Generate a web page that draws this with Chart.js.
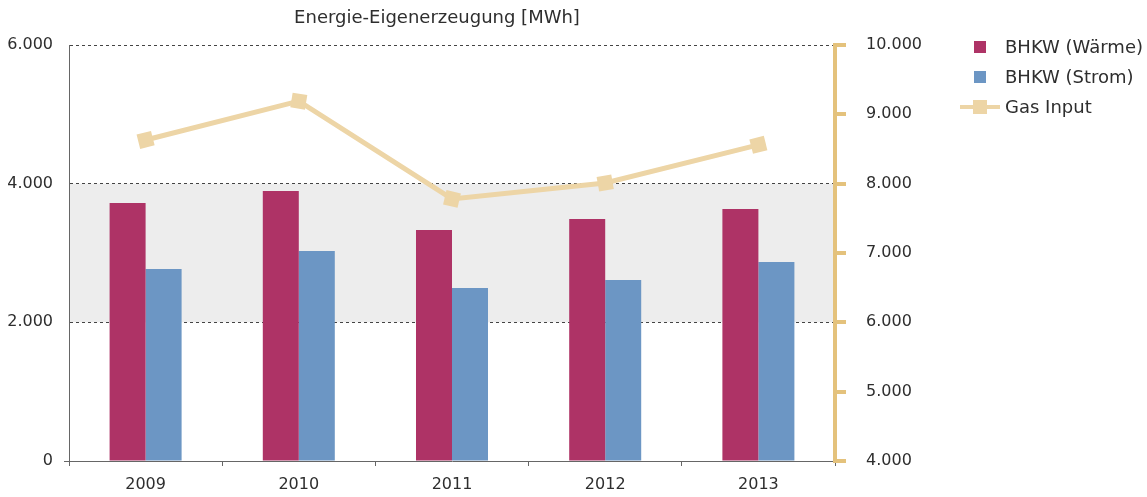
<!DOCTYPE html>
<html>
<head>
<meta charset="utf-8">
<script src="https://cdn.jsdelivr.net/npm/chart.js@4"></script>
<style>
    html, body { margin: 0; padding: 0; background: #fff; }
    #wrap { width: 1147px; height: 497px; }
</style>
</head>
<body>
<div id="wrap"><canvas id="barChart" width="1147" height="497"></canvas></div>
<script>
// chart data
const years = ['2009', '2010', '2011', '2012', '2013'];
const waerme = [3720, 3895, 3330, 3490, 3635];
const strom = [2770, 3030, 2495, 2610, 2870];
const gasInput = [8630, 9190, 7780, 8010, 8560];
const leftTicks = [0, 2000, 4000, 6000];
const rightTicks = [4000, 5000, 6000, 7000, 8000, 9000, 10000];
const bandRange = [2000, 4000];
const titleText = 'Energie-Eigenerzeugung [MWh]';

const FONT = 'DejaVu Sans';
const TEXT = '#2e2e2e';
const GOLD = '#e4c27c';
const GAS = '#edd5a6';

function fmt(v) {
    return String(v).replace(/\B(?=(\d{3})+(?!\d))/g, '.');
}

// grey band + title
const bandPlugin = {
    id: 'band',
    beforeDraw: function (chart) {
        const ctx = chart.ctx, a = chart.chartArea, y = chart.scales.y;
        const y1 = y.getPixelForValue(bandRange[1]);
        const y2 = y.getPixelForValue(bandRange[0]);
        ctx.save();
        ctx.fillStyle = '#ededed';
        ctx.fillRect(a.left, y1, a.right - a.left, y2 - y1);
        ctx.fillStyle = TEXT;
        ctx.font = '18px "' + FONT + '"';
        ctx.textAlign = 'center';
        ctx.textBaseline = 'middle';
        ctx.fillText(titleText, a.left + 368, 18);
        ctx.restore();
    }
};

// legend on the right
const legendPlugin = {
    id: 'sideLegend',
    afterDraw: function (chart) {
        const ctx = chart.ctx, a = chart.chartArea;
        ctx.save();
        ctx.font = '18px "' + FONT + '"';
        ctx.textBaseline = 'middle';
        ctx.fillStyle = TEXT;
        chart.data.datasets.forEach(function (ds, i) {
            const cy = a.top + 2 + i * 30;
            const bx = a.right + 145;
            if (ds.type === 'line') {
                ctx.strokeStyle = ds.borderColor;
                ctx.lineWidth = 4;
                ctx.beginPath();
                ctx.moveTo(bx - 20, cy);
                ctx.lineTo(bx + 20, cy);
                ctx.stroke();
                ctx.fillStyle = ds.backgroundColor;
                ctx.fillRect(bx - 7, cy - 7, 14, 14);
            } else {
                ctx.fillStyle = ds.backgroundColor;
                ctx.fillRect(bx - 6, cy - 6, 12, 12);
            }
            ctx.fillStyle = TEXT;
            ctx.fillText(ds.label, a.right + 170, cy + 1);
        });
        ctx.restore();
    }
};

function markerAngle(ctx) {
    const i = ctx.dataIndex;
    const sx = ctx.chart.scales.x, sy = ctx.chart.scales.y1;
    if (!sx || !sy || i === undefined) return 0;
    const px = function (k) { return sx.getPixelForValue(k); };
    const py = function (k) { return sy.getPixelForValue(gasInput[k]); };
    const angles = [];
    if (i > 0) angles.push(Math.atan2(py(i) - py(i - 1), px(i) - px(i - 1)));
    if (i < gasInput.length - 1) angles.push(Math.atan2(py(i + 1) - py(i), px(i + 1) - px(i)));
    const avg = angles.reduce(function (s, v) { return s + v; }, 0) / angles.length;
    return avg * 180 / Math.PI;
}

var barChartCanvas = document.getElementById('barChart').getContext('2d');
new Chart(barChartCanvas, {
    type: 'bar',
    data: {
        labels: years,
        datasets: [{
            label: 'BHKW (Wärme)',
            data: waerme,
            backgroundColor: '#ae3366',
            yAxisID: 'y',
            barPercentage: 1,
            categoryPercentage: 0.47
        }, {
            label: 'BHKW (Strom)',
            data: strom,
            backgroundColor: '#6c96c4',
            yAxisID: 'y',
            barPercentage: 1,
            categoryPercentage: 0.47
        }, {
            type: 'line',
            label: 'Gas Input',
            data: gasInput,
            yAxisID: 'y1',
            borderColor: GAS,
            backgroundColor: GAS,
            borderWidth: 5,
            pointStyle: 'rect',
            pointRadius: 10.5,
            pointBorderWidth: 0,
            pointRotation: markerAngle,
            order: -1
        }]
    },
    options: {
        responsive: false,
        animation: false,
        layout: { padding: { top: 45, right: 212, bottom: 0, left: 0 } },
        plugins: {
            legend: { display: false },
            tooltip: { enabled: false }
        },
        scales: {
            x: {
                offset: true,
                grid: {
                    offset: true,
                    drawOnChartArea: false,
                    drawTicks: true,
                    tickLength: 5,
                    color: '#666'
                },
                border: { color: '#666', width: 1 },
                ticks: { color: TEXT, padding: 9, font: { family: FONT, size: 16 } },
                afterFit: function (scale) { scale.height = 36; }
            },
            y: {
                position: 'left',
                min: 0,
                max: 6000,
                afterBuildTicks: function (scale) {
                    scale.ticks = leftTicks.map(function (v) { return { value: v }; });
                },
                grid: {
                    color: function (c) { return c.tick && c.tick.value === 0 ? 'rgba(0,0,0,0)' : '#444'; },
                    tickColor: function (c) { return c.tick && c.tick.value === 0 ? '#666' : 'rgba(0,0,0,0)'; },
                    lineWidth: 1,
                    drawTicks: true,
                    tickLength: 5
                },
                border: { color: '#666', width: 1, dash: [3, 3] },
                ticks: {
                    color: TEXT,
                    padding: 11,
                    font: { family: FONT, size: 16 },
                    callback: function (v) { return fmt(v); }
                },
                afterFit: function (scale) { scale.width = 69; }
            },
            y1: {
                position: 'right',
                min: 4000,
                max: 10000,
                afterBuildTicks: function (scale) {
                    scale.ticks = rightTicks.map(function (v) { return { value: v }; });
                },
                grid: {
                    drawOnChartArea: false,
                    drawTicks: true,
                    tickLength: 11,
                    color: GOLD,
                    lineWidth: 4
                },
                border: { color: GOLD, width: 4 },
                ticks: {
                    color: TEXT,
                    padding: 20,
                    font: { family: FONT, size: 16 },
                    callback: function (v) { return fmt(v); }
                },
                afterFit: function (scale) { scale.width = 100; }
            }
        }
    },
    plugins: [bandPlugin, legendPlugin]
});
</script>
</body>
</html>
